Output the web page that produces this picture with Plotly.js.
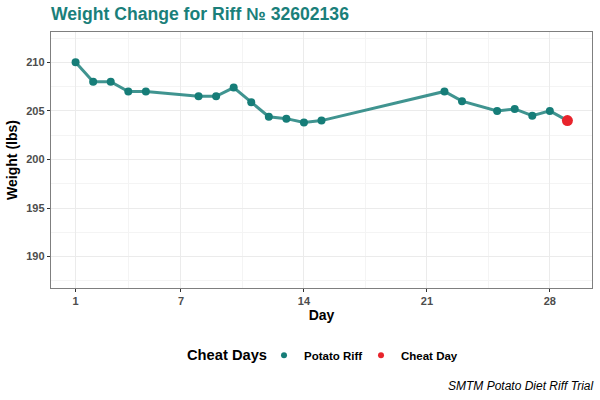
<!DOCTYPE html>
<html>
<head>
<meta charset="utf-8">
<script src="https://cdn.plot.ly/plotly-3.0.1.min.js"></script>
<style>html,body{margin:0;padding:0;background:#fff;}#chart{width:600px;height:400px;}</style>
</head>
<body>
<div id="chart"></div>
<script>
const days = [1, 2, 3, 4, 5, 8, 9, 10, 11, 12, 13, 14, 15, 22, 23, 25, 26, 27, 28, 29];
const weights = [210, 208, 208, 207, 207, 206.5, 206.5, 207.4, 205.9, 204.4, 204.2, 203.8, 204.0, 207.0, 206.0, 205.0, 205.2, 204.5, 205.0, 204.0];
const cheatFlags = [0,0,0,0,0,0,0,0,0,0,0,0,0,0,0,0,0,0,0,1];
const seriesNames = ['Potato Riff', 'Cheat Day'];
const xTicks = [1, 7, 14, 21, 28];
const xMinor = [4, 10.5, 17.5, 24.5];
const yTicks = [190, 195, 200, 205, 210];
const yMinor = [187.5, 192.5, 197.5, 202.5, 207.5, 212.5];

const teal = '#167d78';
const red = '#e8242c';
const FONT = 'Liberation Sans, Arial, sans-serif';

const riffX = days.filter((d, i) => !cheatFlags[i]);
const riffY = weights.filter((w, i) => !cheatFlags[i]);
const cheatX = days.filter((d, i) => cheatFlags[i]);
const cheatY = weights.filter((w, i) => cheatFlags[i]);

const traces = [
  {x: days, y: weights, mode: 'lines', line: {color: 'rgba(22,125,120,0.82)', width: 3}, showlegend: false, hoverinfo: 'skip'},
  {x: riffX, y: riffY, mode: 'markers', marker: {color: teal, size: 8}, showlegend: false},
  {x: cheatX, y: cheatY, mode: 'markers', marker: {color: red, size: 11}, showlegend: false},
  {x: [null], y: [null], mode: 'markers', name: seriesNames[0], marker: {color: teal, size: 6}},
  {x: [null], y: [null], mode: 'markers', name: seriesNames[1], marker: {color: red, size: 6}}
];

const axisCommon = {
  showline: true, mirror: true, linecolor: '#7f7f7f', linewidth: 1.2,
  gridcolor: '#ebebeb', gridwidth: 1, zeroline: false,
  ticks: 'outside', ticklen: 3, tickcolor: '#333333', tickwidth: 1,
  tickfont: {family: FONT, size: 11, color: '#4d4d4d', weight: 'bold'},
};

const plotW = 541;
const layout = {
  width: 600, height: 400,
  margin: {l: 51, r: 8, t: 32, b: 112},
  paper_bgcolor: '#ffffff', plot_bgcolor: '#ffffff',
  font: {family: FONT},
  title: {text: '<b>Weight Change for Riff № 32602136</b>', x: 51 / 600, xref: 'container', xanchor: 'left', y: 0.966, yanchor: 'middle',
          font: {family: FONT, size: 17.6, color: '#1a7f7a'}},
  xaxis: Object.assign({}, axisCommon, {
    range: [-0.4, 30.4], tickmode: 'array', tickvals: xTicks, ticktext: xTicks.map(String),
    minor: {tickmode: 'array', tickvals: xMinor, showgrid: true, gridcolor: '#f4f4f4', gridwidth: 1, ticks: ''},
    title: {text: '<b>Day</b>', font: {family: FONT, size: 14, color: '#000'}, standoff: 2}
  }),
  yaxis: Object.assign({}, axisCommon, {
    range: [186.77, 213.12], tickmode: 'array', tickvals: yTicks, ticktext: yTicks.map(String),
    minor: {tickmode: 'array', tickvals: yMinor, showgrid: true, gridcolor: '#f4f4f4', gridwidth: 1, ticks: ''},
    title: {text: '<b>Weight (lbs)</b>', font: {family: FONT, size: 14, color: '#000'}, standoff: 5}
  }),
  legend: {
    orientation: 'h', x: (264 - 51) / plotW, xanchor: 'left', y: -0.263, yanchor: 'middle',
    font: {family: FONT, size: 11.5, color: '#000', weight: 'bold'},
    itemwidth: 30, entrywidth: 52
  },
  annotations: [{
    text: '<b>Cheat Days</b>', xref: 'paper', yref: 'paper', x: (186 - 51) / plotW, y: -0.263,
    xanchor: 'left', yanchor: 'middle', showarrow: false, borderpad: 0, font: {family: FONT, size: 14.7, color: '#000'}
  }, {
    text: '<i>SMTM Potato Diet Riff Trial</i>', xref: 'paper', yref: 'paper', x: 1, y: -0.384, xshift: 3,
    xanchor: 'right', yanchor: 'middle', showarrow: false, font: {family: FONT, size: 12, color: '#000'}
  }]
};

Plotly.newPlot('chart', traces, layout, {displayModeBar: false, staticPlot: true});
</script>
</body>
</html>
